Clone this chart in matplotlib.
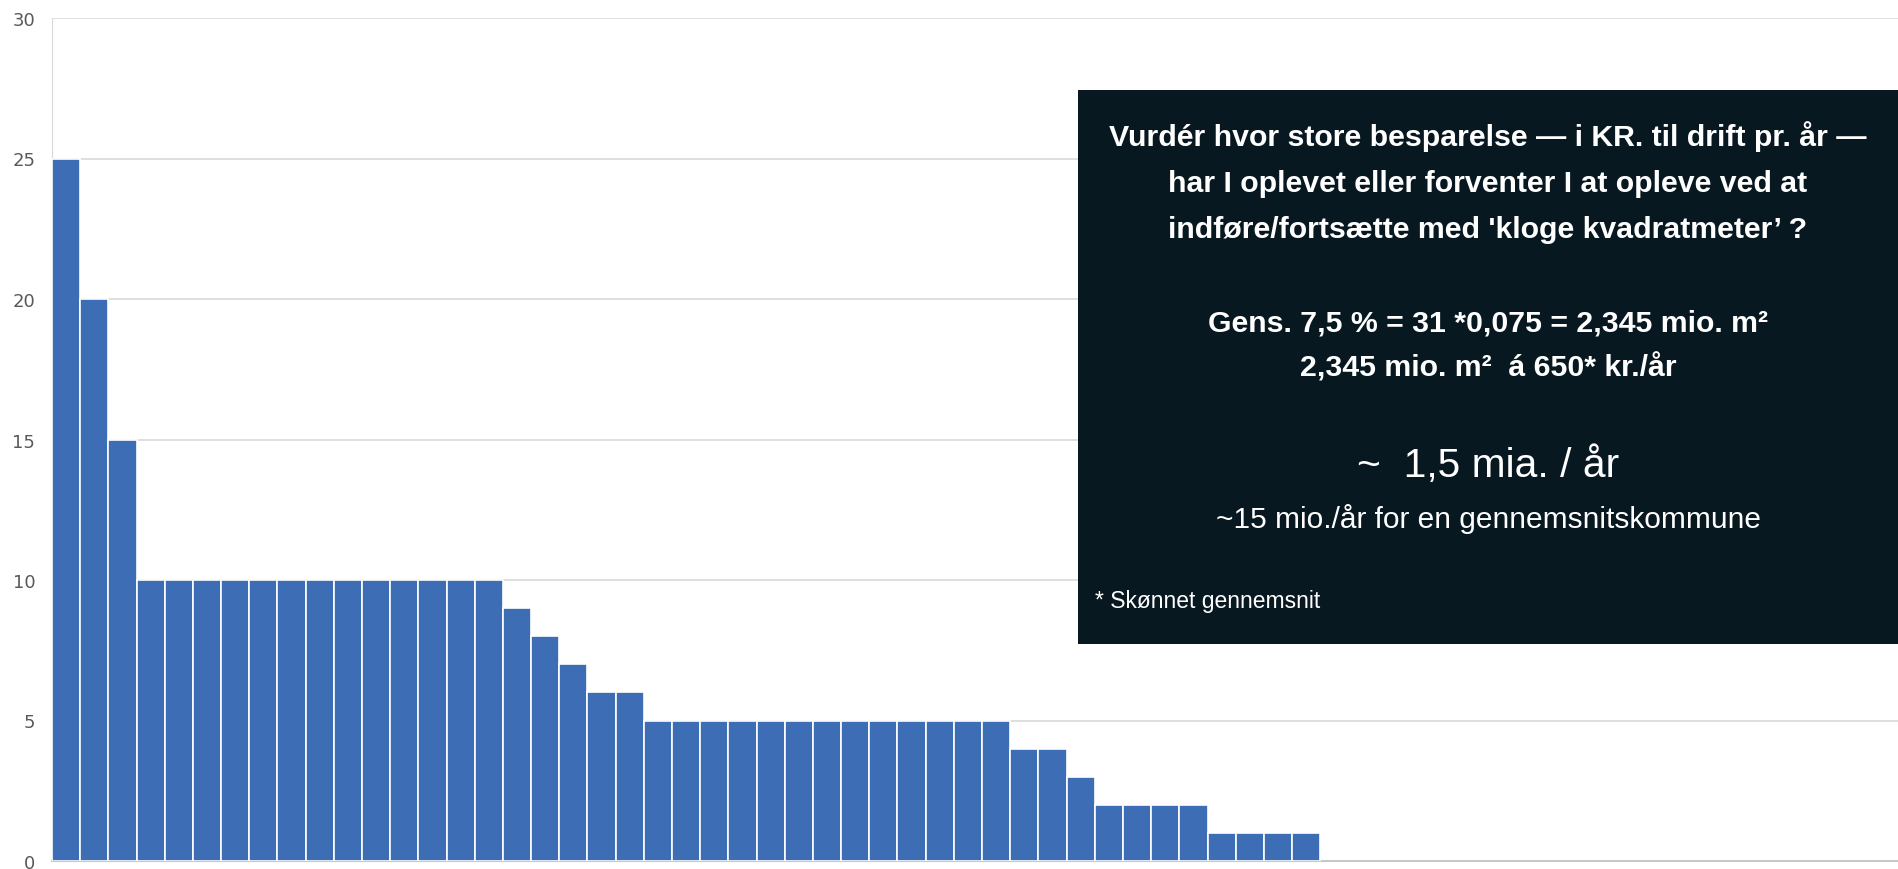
import matplotlib
matplotlib.use("Agg")
from matplotlib import pyplot as plt
from matplotlib.patches import Rectangle

# savings per municipality (sorted)
values = [25, 20, 15,
          10, 10, 10, 10, 10, 10, 10, 10, 10, 10, 10, 10, 10,
          9, 8, 7, 6, 6,
          5, 5, 5, 5, 5, 5, 5, 5, 5, 5, 5, 5, 5,
          4, 4, 3, 2, 2, 2, 2, 1, 1, 1, 1]
positions = list(range(len(values)))
y_ticks = [0, 5, 10, 15, 20, 25, 30]

title_lines = ["Vurdér hvor store besparelse \u2014 i KR. til drift pr. år \u2014",
               "har I oplevet eller forventer I at opleve ved at",
               "indføre/fortsætte med 'kloge kvadratmeter\u2019 ?"]
calc_lines = ["Gens. 7,5 % = 31 *0,075 = 2,345 mio. m\u00b2",
              "2,345 mio. m\u00b2  á 650* kr./år"]
big_line = "~  1,5 mia. / år"
sub_line = "~15 mio./år for en gennemsnitskommune"
note_line = "* Skønnet gennemsnit"

BOX_FONT = ["Liberation Sans", "DejaVu Sans"]


def main():
    fig = plt.figure(figsize=(18.98, 8.70), dpi=100)
    ax = fig.add_axes([52 / 1898, 8 / 870, 1 - 52 / 1898, (862 - 19) / 870])

    ax.bar(positions, values, width=1.0, color="#3D6DB5",
           edgecolor="white", linewidth=1.2, zorder=3)
    ax.set_xlim(-0.5, 65.0)
    ax.set_ylim(0, 30)
    ax.set_yticks(y_ticks)
    ax.set_xticks([])
    ax.grid(axis="y", color="#d9d9d9", linewidth=1.2, zorder=0)
    for side in ["top", "right"]:
        ax.spines[side].set_visible(False)
    ax.spines["left"].set_color("#d9d9d9")
    ax.spines["bottom"].set_color("#c8c8c8")
    ax.spines["bottom"].set_linewidth(1.5)
    ax.tick_params(axis="y", length=0, pad=12, labelsize=13, labelcolor="#595959")

    # dark info box
    x0, x1 = 1078 / 1898, 1.0
    y0, y1 = 1 - 645 / 870, 1 - 91 / 870
    fig.patches.append(Rectangle((x0, y0), x1 - x0, y1 - y0, transform=fig.transFigure,
                                 facecolor="#081821", edgecolor="none", zorder=5))
    cx = (x0 + x1) / 2

    def fy(py):
        return 1 - py / 870

    for line, py in zip(title_lines, [137, 184, 230]):
        fig.text(cx, fy(py), line, ha="center", va="center", color="white",
                 fontsize=21.8, fontweight="bold", family=BOX_FONT, zorder=6)
    for line, py in zip(calc_lines, [324, 368]):
        fig.text(cx, fy(py), line, ha="center", va="center", color="white",
                 fontsize=21.8, fontweight="bold", family=BOX_FONT, zorder=6)
    fig.text(cx, fy(466), big_line, ha="center", va="center", color="white",
             fontsize=29.3, family=BOX_FONT, zorder=6)
    fig.text(cx, fy(519), sub_line, ha="center", va="center", color="white",
             fontsize=21.5, family=BOX_FONT, zorder=6)
    fig.text(1095 / 1898, fy(602), note_line, ha="left", va="center", color="white",
             fontsize=16.5, family=BOX_FONT, zorder=6)

    fig.savefig("out.png", dpi=100)


if __name__ == "__main__":
    main()
